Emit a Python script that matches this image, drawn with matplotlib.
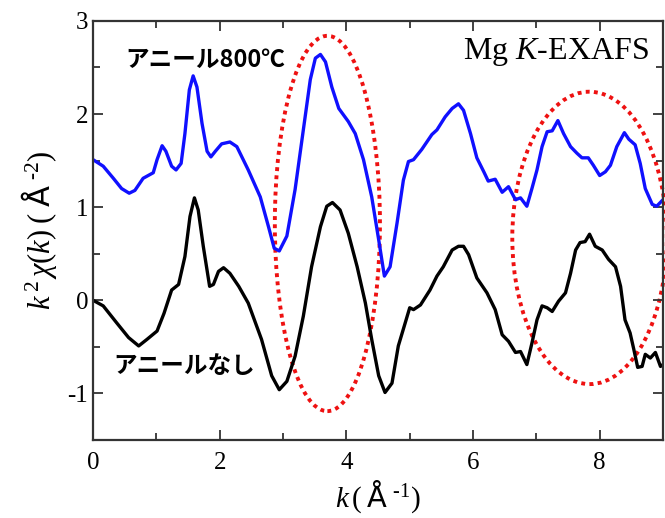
import numpy as np
import matplotlib.pyplot as plt
from matplotlib.patches import Ellipse
from matplotlib.ticker import MultipleLocator

plt.rcParams['font.family'] = ['Liberation Serif', 'DejaVu Serif']
plt.rcParams['mathtext.fontset'] = 'custom'
plt.rcParams['mathtext.rm'] = 'Liberation Serif'
plt.rcParams['mathtext.it'] = 'Liberation Serif:italic'
plt.rcParams['mathtext.sf'] = 'DejaVu Sans'
plt.rcParams['axes.unicode_minus'] = False

# アニール800℃ (blue)
k_800 = [0.0, 0.16, 0.32, 0.45, 0.57, 0.66, 0.79, 0.87, 0.95, 1.01, 1.09, 1.15,
         1.24, 1.31, 1.39, 1.45, 1.52, 1.58, 1.64, 1.72, 1.80, 1.86, 1.93, 2.03,
         2.16, 2.27, 2.45, 2.64, 2.77, 2.86, 2.94, 3.06, 3.19, 3.32, 3.43, 3.51,
         3.59, 3.67, 3.77, 3.88, 4.03, 4.14, 4.27, 4.40, 4.51, 4.60, 4.69, 4.80,
         4.90, 4.98, 5.06, 5.19, 5.35, 5.43, 5.56, 5.67, 5.77, 5.85, 5.96, 6.06,
         6.17, 6.24, 6.35, 6.46, 6.56, 6.67, 6.75, 6.85, 6.93, 7.01, 7.09, 7.17,
         7.25, 7.34, 7.43, 7.54, 7.64, 7.72, 7.82, 7.90, 8.00, 8.09, 8.17, 8.27,
         8.39, 8.46, 8.56, 8.64, 8.72, 8.83, 8.90, 9.0]
chi_800 = [1.51, 1.44, 1.31, 1.20, 1.15, 1.18, 1.31, 1.34, 1.37, 1.51, 1.66, 1.60,
           1.44, 1.40, 1.47, 1.79, 2.26, 2.41, 2.29, 1.90, 1.60, 1.54, 1.60, 1.68,
           1.70, 1.65, 1.40, 1.11, 0.79, 0.56, 0.53, 0.69, 1.19, 1.83, 2.37, 2.60,
           2.64, 2.56, 2.29, 2.06, 1.92, 1.79, 1.51, 1.11, 0.65, 0.26, 0.36, 0.83,
           1.29, 1.49, 1.51, 1.62, 1.78, 1.83, 1.97, 2.06, 2.11, 2.04, 1.79, 1.53,
           1.38, 1.28, 1.30, 1.16, 1.22, 1.08, 1.10, 1.01, 1.20, 1.40, 1.65, 1.81,
           1.82, 1.93, 1.79, 1.65, 1.58, 1.53, 1.53, 1.45, 1.34, 1.38, 1.45, 1.65,
           1.80, 1.73, 1.67, 1.47, 1.20, 1.03, 1.01, 1.08]

# アニールなし (black)
k_none = [0.0, 0.16, 0.37, 0.56, 0.72, 0.85, 1.01, 1.12, 1.24, 1.35, 1.45, 1.53,
          1.60, 1.66, 1.74, 1.84, 1.90, 1.98, 2.06, 2.16, 2.30, 2.45, 2.66, 2.82,
          2.94, 3.06, 3.19, 3.32, 3.45, 3.59, 3.69, 3.78, 3.90, 4.03, 4.17, 4.30,
          4.40, 4.51, 4.61, 4.72, 4.82, 4.93, 5.00, 5.06, 5.17, 5.32, 5.43, 5.53,
          5.67, 5.77, 5.85, 5.93, 6.06, 6.22, 6.35, 6.46, 6.56, 6.67, 6.75, 6.85,
          6.93, 7.01, 7.09, 7.17, 7.25, 7.35, 7.46, 7.54, 7.62, 7.69, 7.77, 7.84,
          7.93, 8.04, 8.14, 8.25, 8.33, 8.40, 8.48, 8.54, 8.60, 8.67, 8.72, 8.80,
          8.88, 8.96, 9.0]
chi_none = [0.0, -0.06, -0.24, -0.40, -0.49, -0.42, -0.33, -0.14, 0.11, 0.17, 0.47, 0.90,
            1.10, 0.97, 0.58, 0.15, 0.17, 0.31, 0.35, 0.29, 0.15, -0.03, -0.42, -0.81,
            -0.96, -0.87, -0.60, -0.17, 0.36, 0.79, 1.01, 1.05, 0.97, 0.72, 0.36, -0.03,
            -0.42, -0.81, -0.99, -0.89, -0.49, -0.24, -0.08, -0.10, -0.05, 0.11, 0.26, 0.36,
            0.54, 0.58, 0.58, 0.49, 0.24, 0.08, -0.10, -0.37, -0.44, -0.56, -0.55, -0.69,
            -0.46, -0.21, -0.06, -0.08, -0.12, -0.01, 0.08, 0.29, 0.54, 0.62, 0.63, 0.71,
            0.58, 0.54, 0.44, 0.36, 0.15, -0.21, -0.35, -0.53, -0.72, -0.71, -0.58, -0.62,
            -0.56, -0.71, -0.69]

# 点線の楕円 (中心k, 中心y, 幅, 高さ)
ellipse_1 = [3.70, 0.825, 1.66, 4.03]
ellipse_2 = [7.84, 0.67, 2.44, 3.14]

fig = plt.figure(figsize=(6.65, 5.18), dpi=100)
ax = fig.add_axes([0.140, 0.1506, 0.857, 0.809])

ax.plot(k_800, chi_800, color='#1010ff', lw=2.4, solid_joinstyle='round')
ax.plot(k_none, chi_none, color='black', lw=2.4, solid_joinstyle='round')

for e in [ellipse_1, ellipse_2]:
    ax.add_patch(Ellipse((e[0], e[1]), e[2], e[3], fill=False, edgecolor='#ee1111',
                         linestyle=(0, (1, 1.1)), lw=2.8, clip_on=False))

ax.set_xlim(0, 9)
ax.set_ylim(-1.5, 3)
ax.xaxis.set_major_locator(MultipleLocator(2))
ax.xaxis.set_minor_locator(MultipleLocator(1))
ax.yaxis.set_major_locator(MultipleLocator(1))
ax.yaxis.set_minor_locator(MultipleLocator(0.5))
ax.tick_params(which='both', direction='in', top=True, right=True, width=1.3,
               labelsize=18, color='#333333')
ax.tick_params(which='major', length=7)
ax.tick_params(which='minor', length=5)
ax.tick_params(axis='x', pad=9)
for s in ax.spines.values():
    s.set_linewidth(1.6)
    s.set_color('#333333')

ax.set_xlabel(r'$k\,(\;\mathsf{Å}\;^{\text{-1}})$', fontsize=21, labelpad=3)
ax.set_ylabel(r'$k^{\,2}\,\chi(k)\;(\;\mathsf{Å}\;^{\text{-2}})$', fontsize=22, labelpad=6)

jp = ['Noto Sans CJK JP', 'DejaVu Sans']
ax.text(0.505, 2.58, 'アニール800℃', family=jp, fontweight='bold', fontsize=17,
        ha='left', va='center')
ax.text(0.32, -0.71, 'アニールなし', family=jp, fontweight='bold', fontsize=17,
        ha='left', va='center')
ax.text(8.77, 2.67, r'Mg $K$-EXAFS', fontsize=23, ha='right', va='center')

fig.savefig('out.png', dpi=100)
